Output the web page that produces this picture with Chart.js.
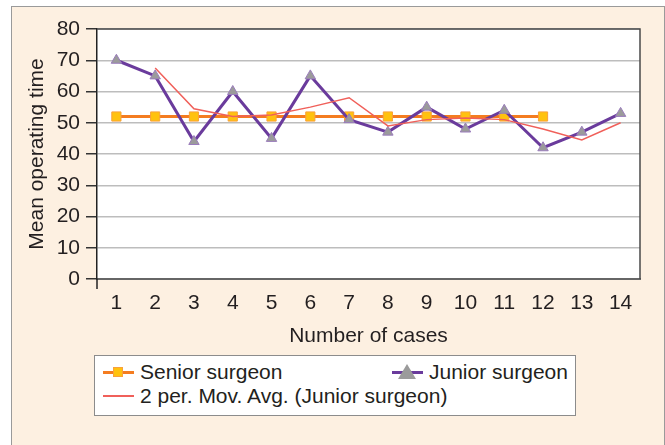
<!DOCTYPE html>
<html>
<head>
<meta charset="utf-8">
<script src="https://cdn.jsdelivr.net/npm/chart.js@4.4.0/dist/chart.umd.min.js"></script>
<style>
  html, body { margin: 0; padding: 0; background: #fff; }
  body { width: 665px; height: 445px; position: relative; overflow: hidden; font-family: "Liberation Sans", Arial, sans-serif; }
  #frame { position: absolute; left: 11px; top: 6px; width: 654px; height: 460px; background: #fdf0e1; border: 1.5px solid #9a9a9a; box-sizing: border-box; }
  #chart { position: absolute; left: 0; top: 0; }
  #legend { position: absolute; left: 94px; top: 355px; width: 482px; height: 61px; background: #fff; border: 1px solid #8c8c8c; box-sizing: border-box; }
  .item { position: absolute; display: flex; align-items: center; height: 24px; font-size: 21px; color: #231f20; white-space: nowrap; }
  .swatch { position: relative; width: 31px; height: 24px; margin-right: 6px; }
  .swatch .line { position: absolute; left: 0; right: 0; top: 11px; height: 2.5px; }
  .swatch .square { position: absolute; left: 10px; top: 7px; width: 10px; height: 10px; box-sizing: border-box; }
  .swatch .tri { position: absolute; left: 6px; top: 4px; width: 0; height: 0; border-left: 9px solid transparent; border-right: 9px solid transparent; border-bottom: 15px solid #9b9b9b; }
</style>
</head>
<body>
<div id="frame"></div>
<canvas id="chart" width="665" height="445"></canvas>
<div id="legend"></div>
<script>
// --- Data ---
const cases = ['1', '2', '3', '4', '5', '6', '7', '8', '9', '10', '11', '12', '13', '14'];
const seniorTimes = [52, 52, 52, 52, 52, 52, 52, 52, 52, 52, 52, 52, null, null];
const juniorTimes = [70, 65, 44, 60, 45, 65, 51, 47, 55, 48, 54, 42, 47, 53];
const movAvgJunior = [null, 67.5, 54.5, 52, 52.5, 55, 58, 49, 51, 51.5, 51, 48, 44.5, 50];
const yMin = 0, yMax = 80, yStep = 10;

const textColor = '#231f20';
Chart.defaults.font.family = "'Liberation Sans', Arial, sans-serif";
Chart.defaults.font.size = 21;
Chart.defaults.color = textColor;

// white plot area + dark frame on top/right
const plotFrame = {
    id: 'plotFrame',
    beforeDraw(chart) {
        const { ctx, chartArea: a } = chart;
        ctx.save();
        ctx.fillStyle = '#fff';
        ctx.fillRect(a.left, a.top, a.right - a.left, a.bottom - a.top);
        ctx.restore();
    },
    afterDraw(chart) {
        const { ctx, chartArea: a } = chart;
        ctx.save();
        ctx.strokeStyle = '#4a4a4a';
        ctx.lineWidth = 1.5;
        ctx.beginPath();
        ctx.moveTo(a.left, a.top);
        ctx.lineTo(a.right, a.top);
        ctx.lineTo(a.right, a.bottom);
        ctx.stroke();
        // little tick of the y axis below the x axis
        ctx.strokeStyle = '#222';
        ctx.beginPath();
        ctx.moveTo(a.left, a.bottom);
        ctx.lineTo(a.left, a.bottom + 10);
        ctx.stroke();
        ctx.restore();
    }
};

const ctx = document.getElementById('chart').getContext('2d');
const chart = new Chart(ctx, {
    type: 'line',
    data: {
        labels: cases,
        datasets: [
            {
                label: 'Senior surgeon',
                data: seniorTimes,
                borderColor: '#f47c20',
                borderWidth: 3,
                pointStyle: 'rect',
                pointRadius: 6.5,
                pointBackgroundColor: '#ffc20e',
                pointBorderColor: '#f9a13b',
                pointBorderWidth: 1,
                tension: 0,
                order: 3
            },
            {
                label: 'Junior surgeon',
                data: juniorTimes,
                borderColor: '#6a3b9c',
                borderWidth: 3,
                pointStyle: 'triangle',
                pointRadius: 6,
                pointBackgroundColor: '#9b9b9b',
                pointBorderColor: '#9a7cbc',
                pointBorderWidth: 1,
                tension: 0,
                order: 2
            },
            {
                label: '2 per. Mov. Avg. (Junior surgeon)',
                data: movAvgJunior,
                borderColor: '#f0605a',
                borderWidth: 1.5,
                pointRadius: 0,
                tension: 0,
                order: 1
            }
        ]
    },
    options: {
        responsive: false,
        animation: false,
        layout: { padding: { left: 0, top: 29, right: 25, bottom: 96 } },
        plugins: {
            legend: { display: false },
            tooltip: { enabled: false }
        },
        scales: {
            x: {
                offset: true,
                grid: { display: false, drawTicks: false },
                border: { display: true, color: '#666', width: 2 },
                ticks: { padding: 12, color: textColor, maxRotation: 0 },
                title: { display: true, text: 'Number of cases', color: textColor, padding: { top: 0, bottom: 0 } },
                afterFit: s => { s.height = 70; }
            },
            y: {
                min: yMin,
                max: yMax,
                grid: { color: '#bdbdbd', lineWidth: 1.5, tickLength: 11, tickColor: '#333', tickWidth: 1.5 },
                border: { display: true, color: '#222', width: 1.5 },
                ticks: { stepSize: yStep, padding: 6, color: textColor },
                title: { display: true, text: 'Mean operating time', color: textColor, padding: { top: 25, bottom: 0 } },
                afterFit: s => { s.width = 97; }
            }
        }
    },
    plugins: [plotFrame]
});

// === HTML legend (Excel style, two columns) ===
const legendSpots = [
    { left: 8, top: 4 },
    { left: 297, top: 4 },
    { left: 8, top: 28 }
];
const legendBox = document.getElementById('legend');
chart.data.datasets.forEach((ds, i) => {
    const item = document.createElement('div');
    item.className = 'item';
    item.style.left = legendSpots[i].left + 'px';
    item.style.top = legendSpots[i].top + 'px';
    let marker = '';
    if (ds.pointStyle === 'rect') {
        marker = `<div class="square" style="background:${ds.pointBackgroundColor};border:1px solid ${ds.pointBorderColor};"></div>`;
    } else if (ds.pointStyle === 'triangle') {
        marker = `<div class="tri" style="border-bottom-color:${ds.pointBackgroundColor};"></div>`;
    }
    item.innerHTML = `
        <div class="swatch">
            <div class="line" style="background:${ds.borderColor};height:${ds.borderWidth}px;"></div>
            ${marker}
        </div>
        <span>${ds.label}</span>
    `;
    legendBox.appendChild(item);
});
</script>
</body>
</html>
